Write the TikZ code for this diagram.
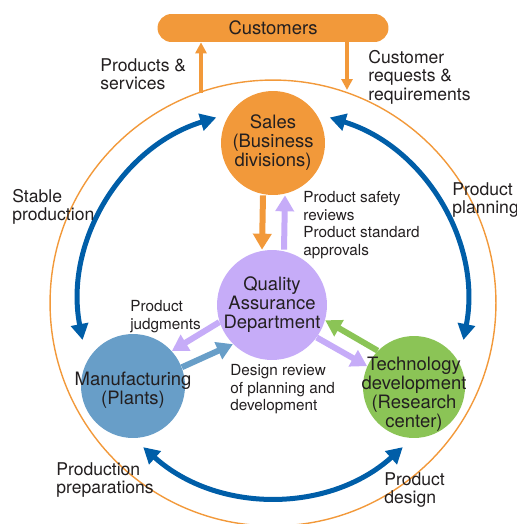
\documentclass[tikz,border=0pt]{standalone}
\usepackage{fontspec}
\setmainfont{TeX Gyre Heros}
\usetikzlibrary{arrows.meta}
\definecolor{ink}{RGB}{35,31,32}
\definecolor{amber}{RGB}{242,153,58}
\definecolor{lilac}{RGB}{198,172,248}
\definecolor{steel}{RGB}{104,158,200}
\definecolor{leaf}{RGB}{139,196,86}
\definecolor{royal}{RGB}{0,94,168}
\tikzset{
  unit/.style={circle,minimum size=2.08cm,inner sep=0pt},
  unittext/.style={inner sep=0pt,align=center,text=ink,font=\fontsize{10.5}{10.8}\selectfont},
  lab/.style={anchor=north west,inner sep=0pt,align=left,text=ink,font=\fontsize{10}{10.5}\selectfont},
  note/.style={lab,font=\fontsize{8.7}{10}\selectfont},
  link/.style={-{Triangle[length=2.2mm,width=2.2mm]},line width=1.8pt,draw=amber},
  flow/.style={-{Triangle[length=3.2mm,width=3.6mm]},line width=1.2mm},
  cyc/.style={{Triangle[length=3.2mm,width=3.4mm]}-{Triangle[length=3.2mm,width=3.4mm]},line width=1mm,draw=royal}
}
\begin{document}
\begin{tikzpicture}[x=0.02cm,y=-0.02cm]
  \useasboundingbox (0,0) rectangle (517,524);
  \coordinate (O) at (273,303);
  \draw[amber,line width=0.8pt] (O) circle[radius=4.46cm];
  % cycle between the three units
  \coordinate (a1) at ([shift={(107:3.88cm)}]O);
  \coordinate (a2) at ([shift={(73:3.88cm)}]O);
  \coordinate (a3) at ([shift={(228:3.88cm)}]O);
  \draw[cyc] (a1) arc[start angle=107,end angle=191,radius=3.88cm];
  \draw[cyc] (a2) arc[start angle=73,end angle=-11,radius=3.88cm];
  \draw[cyc] (a3) arc[start angle=228,end angle=312,radius=3.88cm];
  \node[fill=amber,rounded corners=0.28cm,minimum width=4.62cm,minimum height=0.56cm,inner sep=0pt,text=ink,font=\fontsize{10.5}{12}\selectfont] (cust) at (273,28) {Customers};
  \node[unit,fill=amber,label={[unittext]center:Sales\\(Business\\divisions)}] (sales) at (273,143) {};
  \node[unit,fill=lilac,minimum size=2.2cm,label={[unittext]center:Quality\\Assurance\\Department}] (qa) at (272,305) {};
  \node[unit,fill=steel,label={[unittext,yshift=-0.08cm]center:Manufacturing\\(Plants)}] (mfg) at (133,386) {};
  \node[unit,fill=leaf,minimum size=2.04cm,label={[unittext,yshift=-0.14cm]center:Technology\\development\\(Research\\center)}] (tech) at (414,387) {};
  \coordinate (up) at (201,93);
  \coordinate (dn) at (347,90);
  \draw[link] (up) -- (up |- cust.south);
  \draw[link] (dn |- cust.south) -- (dn);
  \draw[flow,amber] ([xshift=-0.2cm]sales.south) -- ([xshift=-0.2cm]qa.north);
  \draw[flow,lilac] ([xshift=0.24cm]qa.north) -- ([xshift=0.24cm]sales.south);
  \draw[flow,lilac] (qa.198) -- (mfg.42);
  \draw[flow,steel] (mfg.21) -- (qa.225);
  \draw[flow,lilac] (qa.324) -- (tech.156);
  \draw[flow,leaf] (tech.135) -- (qa.344);
  % labels
  \node[lab] (ps) at (100,58) {Products \&\\services};
  \node[lab] (cr) at (368,50) {Customer\\requests \&\\requirements};
  \node[lab] (sp) at (12,189) {Stable\\production};
  \node[lab] (pp) at (452,182) {Product\\planning};
  \node[note] (sr) at (303,191) {Product safety\\reviews\\Product standard\\approvals};
  \node[note] (pj) at (130,300) {Product\\judgments};
  \node[note] (dr) at (230,364) {Design review\\of planning and\\development};
  \node[lab] (prp) at (56,462) {Production\\preparations};
  \node[lab] (pd) at (384,472) {Product\\design};
\end{tikzpicture}
\end{document}
